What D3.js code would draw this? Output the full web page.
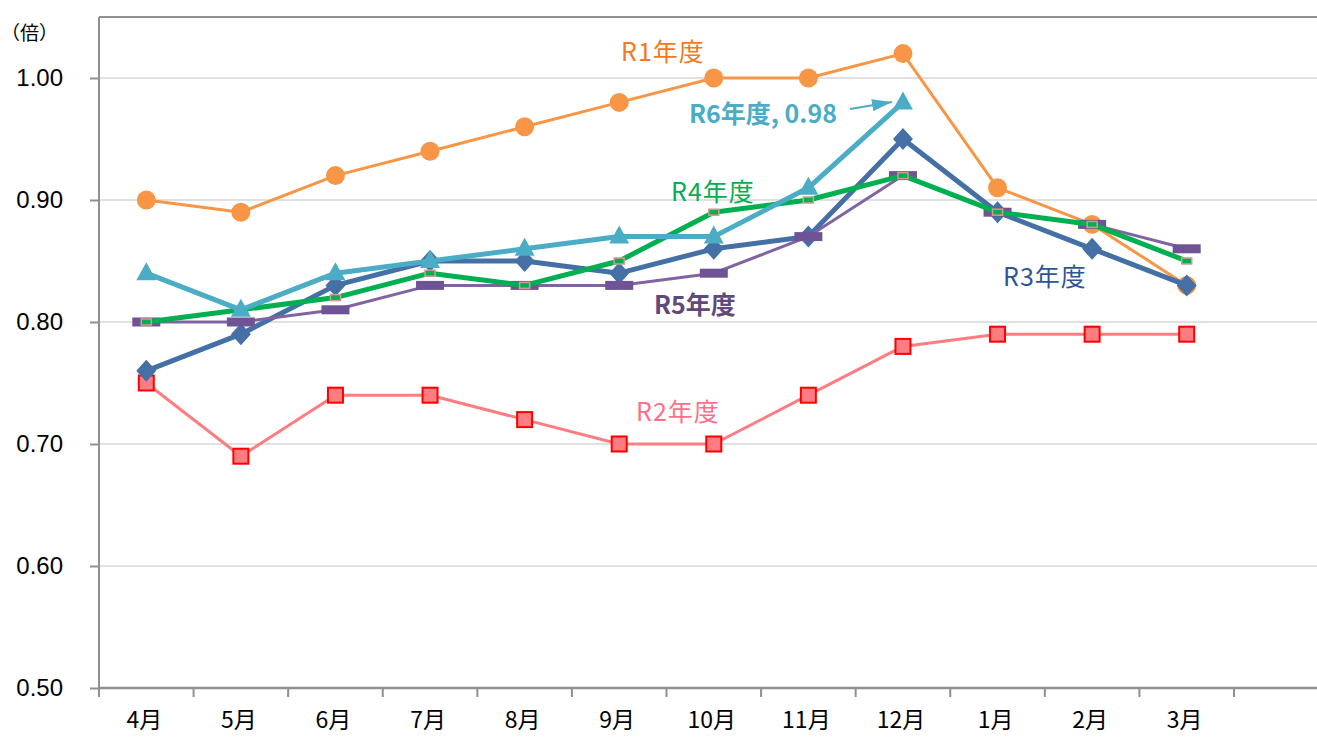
<!DOCTYPE html>
<html><head><meta charset="utf-8">
<script src="https://cdn.jsdelivr.net/npm/d3@7"></script>
<style>body{margin:0;background:#fff}svg{display:block}</style>
</head><body>
<script>
const months = ["4月","5月","6月","7月","8月","9月","10月","11月","12月","1月","2月","3月"];
const yTicks = [0.5,0.6,0.7,0.8,0.9,1.0];
const r1 = [0.90,0.89,0.92,0.94,0.96,0.98,1.00,1.00,1.02,0.91,0.88,0.83];
const r2 = [0.75,0.69,0.74,0.74,0.72,0.70,0.70,0.74,0.78,0.79,0.79,0.79];
const r3 = [0.76,0.79,0.83,0.85,0.85,0.84,0.86,0.87,0.95,0.89,0.86,0.83];
const r4 = [0.80,0.81,0.82,0.84,0.83,0.85,0.89,0.90,0.92,0.89,0.88,0.85];
const r5 = [0.80,0.80,0.81,0.83,0.83,0.83,0.84,0.87,0.92,0.89,0.88,0.86];
const r6 = [0.84,0.81,0.84,0.85,0.86,0.87,0.87,0.91,0.98];

(function () {
const W = 1317, H = 739;
const svg = d3.select("body").append("svg").attr("width", W).attr("height", H);
const pLeft = 99, pTop = 17, pBottom = 688, bandRight = 1234, plotRight = 1317;
const x = d3.scaleBand().domain(months).range([pLeft, bandRight]);
const y = d3.scaleLinear().domain([0.5, 1.05]).range([pBottom, pTop]);
const cx = (i) => x(months[i]) + x.bandwidth() / 2;
const font = "'Liberation Sans', 'Noto Sans CJK JP', sans-serif";
const jfont = "'Noto Sans CJK JP', sans-serif";

// gridlines
svg.append("g").selectAll("line").data(yTicks.filter(d => d > 0.5)).join("line")
  .attr("x1", pLeft).attr("x2", plotRight).attr("y1", d => y(d)).attr("y2", d => y(d))
  .attr("stroke", "#c4c4c4").attr("stroke-width", 1.2);
// top border
svg.append("line").attr("x1", pLeft).attr("x2", plotRight).attr("y1", pTop).attr("y2", pTop)
  .attr("stroke", "#909090").attr("stroke-width", 2);

// y axis
const yAxis = d3.axisLeft(y).tickValues(yTicks).tickFormat(d3.format(".2f")).tickSize(9).tickPadding(27);
const gy = svg.append("g").attr("transform", `translate(${pLeft},0)`).call(yAxis);
gy.select(".domain").attr("stroke", "#909090").attr("stroke-width", 2).attr("d", `M0,${pTop}V${pBottom}`);
gy.selectAll(".tick line").attr("stroke", "#909090").attr("stroke-width", 2);
gy.selectAll(".tick text").attr("font-family", font).attr("font-size", 24).attr("fill", "#000");

// x axis
const xAxis = d3.axisBottom(x).tickSize(0).tickPadding(24);
const gx = svg.append("g").attr("transform", `translate(0,${pBottom})`).call(xAxis);
gx.select(".domain").remove();
gx.selectAll(".tick text").attr("font-family", jfont).attr("font-size", 23).attr("fill", "#000")
  .attr("dx", "-2");
svg.append("line").attr("x1", pLeft).attr("x2", plotRight).attr("y1", pBottom).attr("y2", pBottom)
  .attr("stroke", "#909090").attr("stroke-width", 2.5);
const bounds = months.map(m => x(m)).concat([bandRight]);
svg.append("g").selectAll("line").data(bounds).join("line")
  .attr("x1", d => d).attr("x2", d => d).attr("y1", pBottom).attr("y2", pBottom + 9)
  .attr("stroke", "#909090").attr("stroke-width", 2);

// unit
svg.append("text").attr("x", 1).attr("y", 40).attr("font-family", jfont).attr("font-size", 19).text("（倍）");

const line = d3.line().x((d, i) => cx(i)).y(d => y(d));
function drawLine(data, color, width) {
  svg.append("path").datum(data).attr("d", line).attr("fill", "none")
    .attr("stroke", color).attr("stroke-width", width).attr("stroke-linejoin", "round");
}

// R1
drawLine(r1, "#F79646", 3);
svg.append("g").selectAll("circle").data(r1).join("circle")
  .attr("cx", (d, i) => cx(i)).attr("cy", d => y(d)).attr("r", 9.5).attr("fill", "#F79646");
// R2
drawLine(r2, "#FF7C80", 3);
svg.append("g").selectAll("rect").data(r2).join("rect")
  .attr("x", (d, i) => cx(i) - 7.5).attr("y", d => y(d) - 7.5).attr("width", 15).attr("height", 15)
  .attr("fill", "#FF7C80").attr("stroke", "#FF0000").attr("stroke-width", 2);
// R3
drawLine(r3, "#4470A6", 5);
svg.append("g").selectAll("path").data(r3).join("path")
  .attr("d", (d, i) => { const px = cx(i), py = y(d); return `M${px},${py-11}L${px+10},${py}L${px},${py+11}L${px-10},${py}Z`; })
  .attr("fill", "#4470A6");
// R5
drawLine(r5, "#8064A2", 3);
svg.append("g").selectAll("rect").data(r5).join("rect")
  .attr("x", (d, i) => cx(i) - 14).attr("y", d => y(d) - 4.5).attr("width", 28).attr("height", 9)
  .attr("fill", "#6E5494");
// R4
drawLine(r4, "#00B050", 5);
svg.append("g").selectAll("rect").data(r4).join("rect")
  .attr("x", (d, i) => cx(i) - 5).attr("y", d => y(d) - 3).attr("width", 10).attr("height", 6)
  .attr("fill", "#00B050").attr("stroke", "#D99694").attr("stroke-width", 1.5);
// R6
drawLine(r6, "#4BACC6", 5);
svg.append("g").selectAll("path").data(r6).join("path")
  .attr("d", (d, i) => { const px = cx(i), py = y(d); return `M${px},${py-11}L${px+10},${py+7}L${px-10},${py+7}Z`; })
  .attr("fill", "#4BACC6");

// labels
function label(txt, xx, yy, color, weight, ls) {
  svg.append("text").attr("x", xx).attr("y", yy).attr("font-family", jfont).attr("font-size", 25)
    .attr("font-weight", weight || "normal").attr("letter-spacing", ls || 0).attr("fill", color).text(txt);
}
label("R1年度", 621, 61, "#F07A22", "normal", 1);
label("R6年度, 0.98", 689, 123, "#4BACC6", "bold");
label("R4年度", 671, 201, "#00B050", "normal", 1);
label("R5年度", 654, 314, "#604A7B", "bold");
label("R3年度", 1003, 286, "#2F5597", "normal", 1);
label("R2年度", 636, 421, "#FF6F8A", "normal", 1);

// arrow
svg.append("defs").append("marker").attr("id", "ah").attr("viewBox", "0 0 20 12")
  .attr("refX", 20).attr("refY", 6).attr("markerUnits", "userSpaceOnUse")
  .attr("markerWidth", 20).attr("markerHeight", 12).attr("orient", "auto")
  .append("path").attr("d", "M0,0L20,6L0,12Z").attr("fill", "#4BACC6");
svg.append("line").attr("x1", 850).attr("y1", 109).attr("x2", 892).attr("y2", 102)
  .attr("stroke", "#4BACC6").attr("stroke-width", 2).attr("marker-end", "url(#ah)");
})();
</script>
</body></html>
